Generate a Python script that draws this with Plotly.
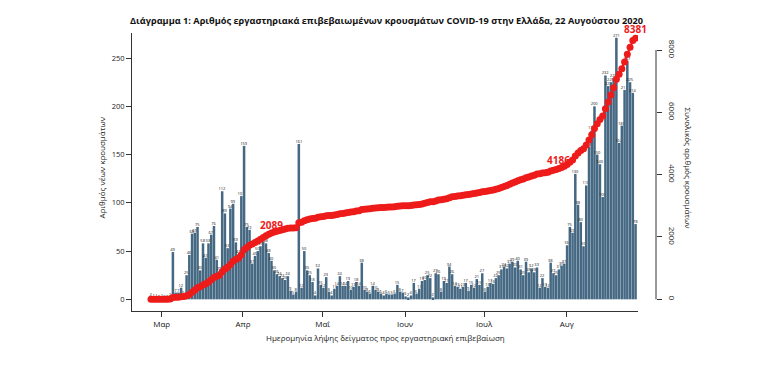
import numpy as np
import pandas as pd
import plotly.graph_objects as go

# ---- data ----
start_date = "2020-02-26"
daily_cases = [
    2, 1, 1, 0, 1, 0, 0, 2,
    49, 7, 7, 12, 5, 25, 46,
    68, 69, 75,
    30, 58, 43, 58, 67, 76, 41, 29,
    112, 89, 53, 94, 99, 59, 47, 107, 159,
    75, 72, 37, 45, 50, 55, 60, 58, 48, 40,
    30, 26, 24, 22, 20, 24, 9, 5, 8,
    161, 12, 50, 30, 25, 18, 4, 32, 15, 12, 23,
    8, 4, 11, 14, 24, 14, 14, 19, 10, 13, 18, 14, 38, 10, 8, 6, 14, 10, 8, 6,
    4, 6, 5, 5, 6, 15, 8, 7, 3, 2, 4,
    17, 6, 11, 19, 20, 25, 22, 2, 27, 26, 8, 19, 17, 34, 26, 14, 13, 11, 13, 17,
    9, 15, 12, 21, 15, 27, 8, 13, 17, 16,
    22, 25, 31, 34, 32, 37, 39, 33, 40, 31, 25, 39, 28, 32, 28, 33, 12, 22, 13, 12,
    38, 27, 25, 31,
    35, 37, 56, 75, 69, 130, 98, 80, 55, 118, 158, 175, 200, 150, 140, 106, 232,
    221, 225, 229, 271, 162, 180, 217, 247, 225, 214, 78,
]
month_tick_days = [3.9, 33.6, 62.7, 92.8, 121.7, 151.9]
month_tick_labels = ["Μαρ", "Απρ", "Μαΐ", "Ιουν", "Ιουλ", "Αυγ"]
left_ticks = [0, 50, 100, 150, 200, 250]
right_ticks = [0, 2000, 4000, 6000, 8000]
highlight_days = [44, 149, 177]
highlight_values = [2089, 4186, 8381]

dates = pd.date_range(start_date, periods=len(daily_cases), freq="D")
day_index = np.array((dates - dates[0]).days)
cumulative = np.cumsum(daily_cases)

BAR = "#456883"
RED = "#ee1b1b"
AX = "#333333"
TXT = "#1a1a1a"
FONT = "Open Sans"

fig = go.Figure()
fig.add_trace(go.Bar(
    x=day_index, y=daily_cases, marker=dict(color=BAR, line=dict(width=0)),
    text=[str(v) for v in daily_cases], textposition="outside",
    textfont=dict(size=4, color="#111111", family=FONT),
    constraintext="none", cliponaxis=False, showlegend=False,
))
fig.add_trace(go.Scatter(
    x=day_index, y=cumulative, yaxis="y2", mode="lines+markers",
    line=dict(color=RED, width=2), marker=dict(color=RED, size=7),
    showlegend=False,
))

# page body adds an 8px offset, so the figure is drawn 8px smaller/shifted
OFF = 8
W, H = 780 - OFF, 369 - OFF
L, R, T, B = 132 - OFF, 124, 33 - OFF, 58
pw = W - L - R
ph = H - T - B

def px(xp):
    return (xp - OFF - L) / pw

def py(yp):
    return (H - B - (yp - OFF)) / ph

fig.update_layout(
    width=W, height=H, margin=dict(l=L, r=R, t=T, b=B),
    paper_bgcolor="white", plot_bgcolor="white",
    font=dict(family=FONT, color=TXT),
    bargap=0.08,
    xaxis=dict(
        domain=[0, px(638)], range=[-6.94, 177.9],
        tickmode="array", tickvals=month_tick_days, ticktext=month_tick_labels,
        ticks="outside", ticklen=5, tickcolor=AX, showline=True, linecolor=AX,
        linewidth=1, showgrid=False, zeroline=False,
        tickfont=dict(size=8, color="#111111", family=FONT),
    ),
    yaxis=dict(
        range=[-12.1, 276], tickmode="array", tickvals=left_ticks,
        ticks="outside", ticklen=5, tickcolor=AX, showline=True, linecolor=AX,
        linewidth=1, showgrid=False, zeroline=False,
        tickfont=dict(size=7.5, color=TXT),
    ),
    yaxis2=dict(
        overlaying="y", side="right", anchor="free", position=1.0,
        range=[-375, 8546], tickmode="array", tickvals=right_ticks,
        ticks="outside", ticklen=5, tickcolor=AX, showline=False,
        showgrid=False, zeroline=False, tickangle=90, ticklabelstandoff=4,
        tickfont=dict(size=8, color=TXT),
    ),
)

fig.add_shape(type="line", xref="paper", yref="y2", x0=1, x1=1,
              y0=right_ticks[0], y1=right_ticks[-1],
              line=dict(color=AX, width=1))

annotations = [
    dict(text="<b>Διάγραμμα 1: Αριθμός εργαστηριακά επιβεβαιωμένων κρουσμάτων COVID-19 στην Ελλάδα, 22 Αυγούστου 2020</b>",
         xref="paper", yref="paper", x=px(386), y=py(12), showarrow=False,
         font=dict(size=9.2, color="#111111")),
    dict(text="Ημερομηνία λήψης δείγματος προς εργαστηριακή επιβεβαίωση",
         xref="paper", yref="paper", x=px(385), y=py(345), showarrow=False,
         font=dict(size=8, color=TXT)),
    dict(text="Αριθμός νέων κρουσμάτων", xref="paper", yref="paper",
         x=px(93), y=py(168), textangle=-90, showarrow=False,
         font=dict(size=8, color=TXT)),
    dict(text="Συνολικός αριθμός κρουσμάτων", xref="paper", yref="paper",
         x=px(696), y=py(168), textangle=90, showarrow=False,
         font=dict(size=8, color=TXT)),
]
for d, v in zip(highlight_days, highlight_values):
    annotations.append(dict(
        text="<b>%d</b>" % v, x=d, y=v, xref="x", yref="y2", yshift=9,
        showarrow=False, font=dict(size=10, color=RED),
    ))
fig.update_layout(annotations=annotations)

fig.write_html("out.html")
